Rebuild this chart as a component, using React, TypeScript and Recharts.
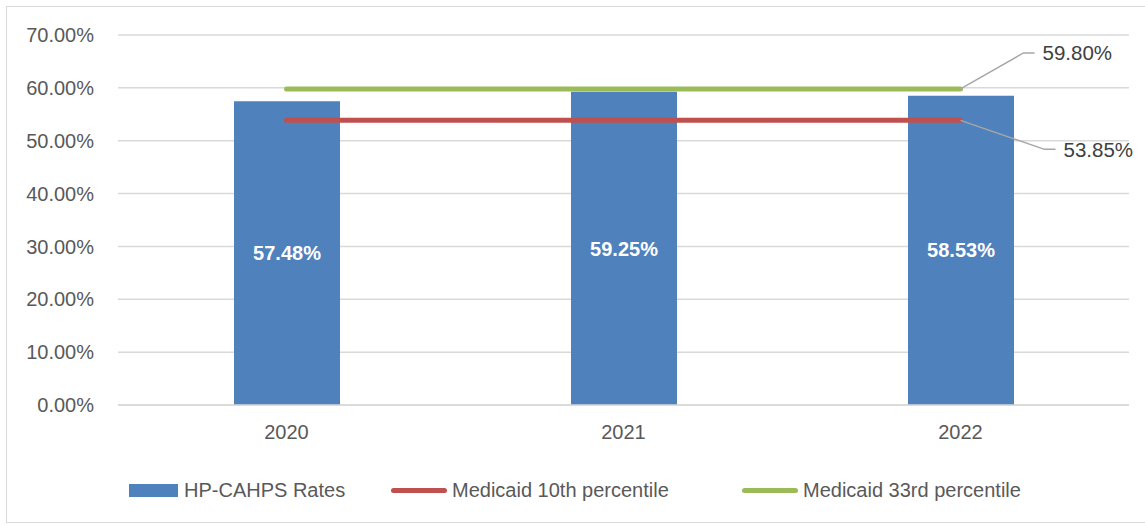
import React from 'react';
import {
  ComposedChart,
  Bar,
  Line,
  XAxis,
  YAxis,
  CartesianGrid,
  LabelList,
} from 'recharts';

const years = ['2020', '2021', '2022'];
const hpCahpsRates = [57.48, 59.25, 58.53];
const medicaid10th = [53.85, 53.85, 53.85];
const medicaid33rd = [59.8, 59.8, 59.8];
const yTicks = [0, 10, 20, 30, 40, 50, 60, 70];

const BLUE = '#4F81BD';
const RED = '#C0504D';
const GREEN = '#9BBB59';
const FONT = '"Liberation Sans", Arial, sans-serif';

const data = years.map((year, i) => ({
  year,
  rate: hpCahpsRates[i],
  p10: medicaid10th[i],
  p33: medicaid33rd[i],
}));

const pct = (v: number) => `${Number(v).toFixed(2)}%`;

// label for the last point of a reference line, with a grey leader line
const makeEndLabel = (dx: number, dy: number) => (props: any) => {
  const { x, y, value, index } = props;
  if (index !== years.length - 1) return null;
  const ex = x + dx;
  const ey = y + dy;
  return (
    <g>
      <polyline
        points={`${x},${y} ${ex},${ey} ${ex + 11},${ey}`}
        fill="none"
        stroke="#A6A6A6"
        strokeWidth={1.5}
      />
      <text x={ex + 19} y={ey} dominantBaseline="central" fill="#404040" fontSize={20.5} fontFamily={FONT}>
        {pct(value)}
      </text>
    </g>
  );
};

const legendItems = [
  { name: 'HP-CAHPS Rates', color: BLUE, type: 'rect', left: 129 },
  { name: 'Medicaid 10th percentile', color: RED, type: 'line', left: 391 },
  { name: 'Medicaid 33rd percentile', color: GREEN, type: 'line', left: 742 },
];

export default function App() {
  return (
    <div style={{ position: 'absolute', left: 0, top: 0, width: 1145, height: 525, background: '#fff', fontFamily: FONT, overflow: 'hidden' }}>
      <div style={{ position: 'absolute', left: 6, top: 6, width: 1150, height: 515, border: '1px solid #D9D9D9' }} />
      <ComposedChart
        width={1145}
        height={525}
        data={data}
        margin={{ top: 35, right: 16, left: 0, bottom: 80 }}
        style={{ position: 'absolute', left: 0, top: 0 }}
      >
        <CartesianGrid vertical={false} stroke="#D9D9D9" strokeWidth={1.5} />
        <XAxis
          dataKey="year"
          height={40}
          tickLine={false}
          axisLine={{ stroke: '#D9D9D9', strokeWidth: 1.5 }}
          tick={{ fill: '#595959', fontSize: 20, fontFamily: FONT }}
          tickMargin={14}
        />
        <YAxis
          width={118}
          domain={[0, 70]}
          ticks={yTicks}
          tickFormatter={pct}
          axisLine={false}
          tickLine={false}
          tickMargin={18}
          tick={{ fill: '#595959', fontSize: 20, fontFamily: FONT }}
        />
        <Bar dataKey="rate" fill={BLUE} barSize={106} isAnimationActive={false}>
          <LabelList
            dataKey="rate"
            position="center"
            formatter={(v: any) => pct(v)}
            style={{ fill: '#fff', fontSize: 20, fontWeight: 700, fontFamily: FONT }}
          />
        </Bar>
        <Line
          dataKey="p10"
          stroke={RED}
          strokeWidth={5}
          strokeLinecap="round"
          dot={false}
          activeDot={false}
          isAnimationActive={false}
        >
          <LabelList dataKey="p10" content={makeEndLabel(84, 29)} />
        </Line>
        <Line
          dataKey="p33"
          stroke={GREEN}
          strokeWidth={5}
          strokeLinecap="round"
          dot={false}
          activeDot={false}
          isAnimationActive={false}
        >
          <LabelList dataKey="p33" content={makeEndLabel(63, -36)} />
        </Line>
      </ComposedChart>
      {legendItems.map((item) => (
        <div
          key={item.name}
          style={{ position: 'absolute', left: item.left, top: 478, height: 24, display: 'flex', alignItems: 'center', color: '#595959', fontSize: 20 }}
        >
          {item.type === 'rect' ? (
            <div style={{ width: 49, height: 13, background: item.color, marginRight: 6 }} />
          ) : (
            <div style={{ width: 56, height: 5, borderRadius: 3, background: item.color, marginRight: 5 }} />
          )}
          <span>{item.name}</span>
        </div>
      ))}
    </div>
  );
}
